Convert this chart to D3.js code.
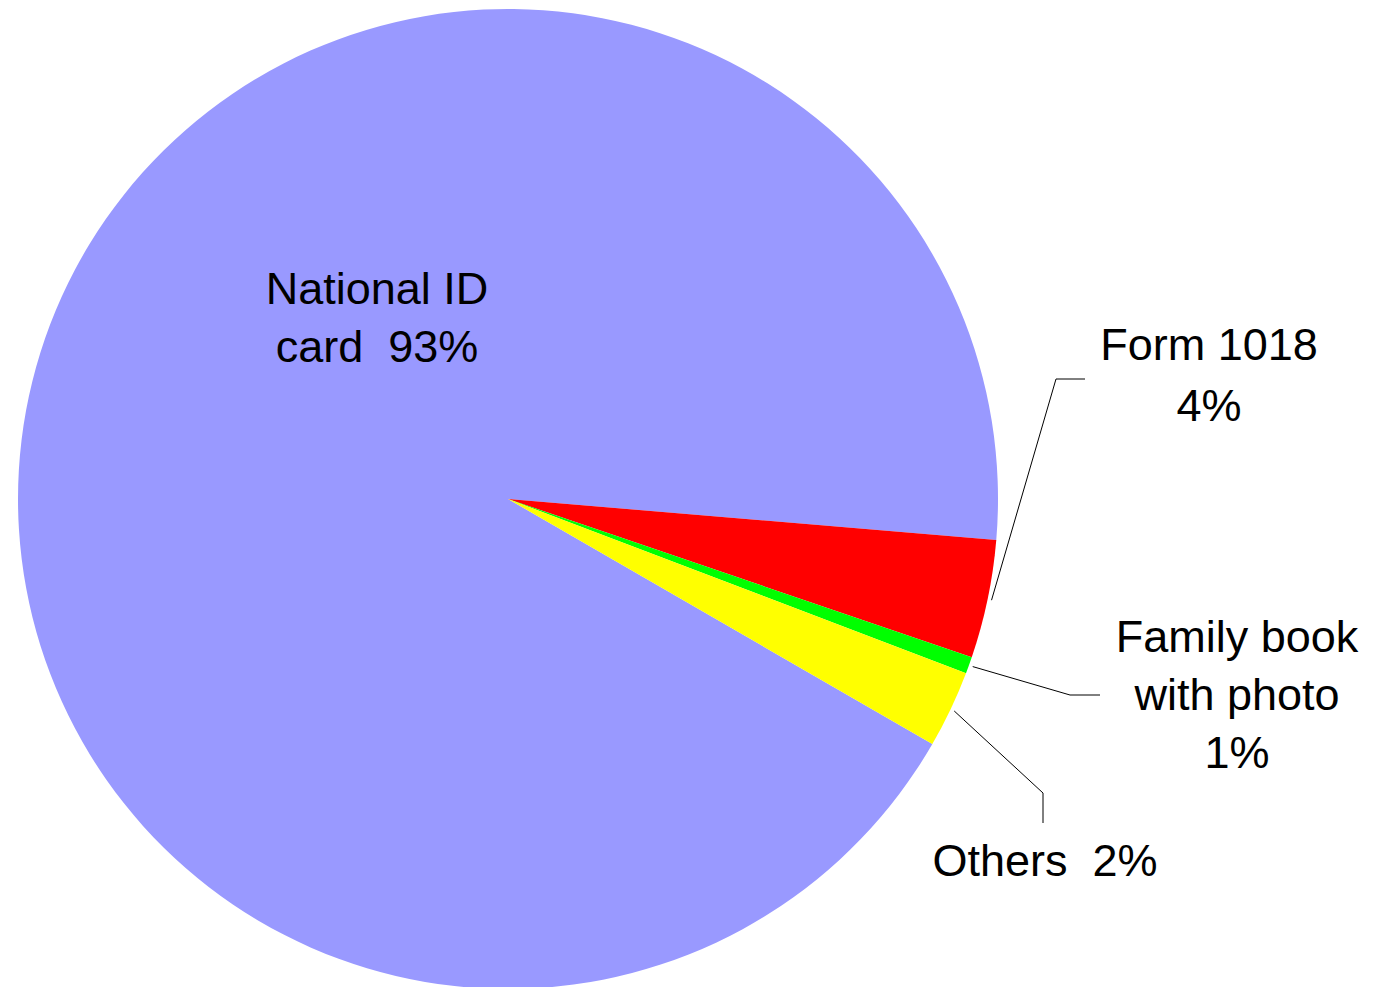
<!DOCTYPE html>
<meta charset="utf-8">
<title>ID documents pie</title>
<style>
  body { margin: 0; background: #fff; }
  svg text { font-family: "Liberation Sans", Arial, sans-serif; font-size: 45px; fill: #000; white-space: pre; }
</style>
<body>
<script src="https://d3js.org/d3.v7.min.js"></script>
<script type="text/javascript">

// data
var categories = ["National ID card", "Form 1018", "Family book with photo", "Others"];
var values = [93.0, 3.9, 0.55, 2.55];
var colors = ["#9999ff", "#ff0000", "#00ff00", "#ffff00"];
var labelLines = [
  ["National ID", "card  93%"],
  ["Form 1018", "4%"],
  ["Family book", "with photo", "1%"],
  ["Others  2%"]
];

var width = 1377;
var height = 987;
var cx = 508, cy = 499, radius = 490;

// label anchor (centre of first baseline) and leader elbows
var labelPos = [[377, 304], [1209, 360], [1237, 652], [1045, 876]];
var lineHeight = [58, 61, 58, 58];
var elbows = [null, [[1056, 379], [1085, 379]], [[1070, 695], [1100, 695]], [[1043, 793], [1043, 823]]];

var svg = d3.select("body")
  .append("svg")
  .attr("width", width)
  .attr("height", height);

var pie = d3.pie()
  .sort(null)
  .startAngle(120 * Math.PI / 180)
  .endAngle(480 * Math.PI / 180);

var arcs = pie(values);

var arc = d3.arc().innerRadius(0).outerRadius(radius);
var outer = d3.arc().innerRadius(radius + 4).outerRadius(radius + 4);

var g = svg.append("g").attr("transform", "translate(" + cx + "," + cy + ")");

g.selectAll("path.slice")
  .data(arcs)
  .enter().append("path")
  .attr("class", "slice")
  .attr("d", arc)
  .attr("fill", function(d, i) { return colors[i]; });

// leader lines
arcs.forEach(function(d, i) {
  if (!elbows[i]) return;
  var p = outer.centroid(d);
  var pts = [[p[0] + cx, p[1] + cy]].concat(elbows[i]);
  svg.append("path")
    .attr("d", d3.line()(pts))
    .attr("fill", "none")
    .attr("stroke", "#000")
    .attr("stroke-width", 1);
});

// labels
labelLines.forEach(function(lines, i) {
  var t = svg.append("text")
    .attr("text-anchor", "middle")
    .attr("x", labelPos[i][0])
    .attr("y", labelPos[i][1]);
  lines.forEach(function(s, j) {
    t.append("tspan")
      .attr("x", labelPos[i][0])
      .attr("y", labelPos[i][1] + j * lineHeight[i])
      .text(s);
  });
});

</script>
</body>
